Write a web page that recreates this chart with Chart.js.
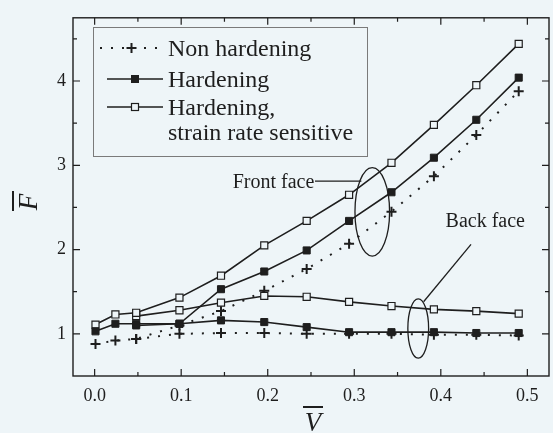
<!DOCTYPE html>
<html>
<head>
<meta charset="utf-8">
<script src="https://cdn.jsdelivr.net/npm/chart.js@4.4.1/dist/chart.umd.min.js"></script>
<style>
  html, body { margin: 0; padding: 0; background: #eef5f8; overflow: hidden; }
  canvas { display: block; }
</style>
</head>
<body>
<canvas id="forceChart" width="556" height="433"></canvas>
<script>
// normalised impact velocity
const velocity = [0.001, 0.024, 0.048, 0.098, 0.146, 0.196, 0.245, 0.294, 0.343, 0.392, 0.441, 0.490];

// normalised force on the front face
const nonHardFront = [0.88, 0.92, 0.94, 1.10, 1.27, 1.51, 1.77, 2.07, 2.45, 2.87, 3.36, 3.88];
const hardFront    = [1.03, 1.12, 1.12, 1.12, 1.53, 1.74, 1.99, 2.34, 2.68, 3.09, 3.54, 4.04];
const rateFront    = [1.11, 1.23, 1.25, 1.43, 1.69, 2.05, 2.34, 2.65, 3.03, 3.48, 3.95, 4.44];

// normalised force on the back face, from the third velocity on
const nonHardBack = [0.94, 1.00, 1.01, 1.01, 1.00, 1.00, 1.00, 0.99, 0.99, 0.98];
const hardBack    = [1.10, 1.12, 1.16, 1.14, 1.08, 1.02, 1.02, 1.02, 1.01, 1.01];
const rateBack    = [1.21, 1.28, 1.37, 1.45, 1.44, 1.38, 1.33, 1.29, 1.27, 1.24];

const xTicks = [0, 0.1, 0.2, 0.3, 0.4, 0.5];
const yTicks = [1, 2, 3, 4];
const xMinor = [0.05, 0.15, 0.25, 0.35, 0.45];
const yMinor = [1.5, 2.5, 3.5, 4.5];

const legendLabels = ['Non hardening', 'Hardening', 'Hardening,', 'strain rate sensitive'];

const ink = '#1e1e1e';
const paper = '#eef5f8';
const serif = '"Liberation Serif", "Times New Roman", serif';

const pts = (vals, from) => vals.map((f, i) => ({ x: velocity[i + from], y: f }));

const dotted = { borderColor: ink, borderWidth: 2, borderDash: [2, 9], pointStyle: 'cross',
  pointRadius: 5, pointBorderWidth: 2, pointBorderColor: ink, order: 3 };
const filled = { borderColor: ink, borderWidth: 1.6, pointStyle: 'rect', pointRadius: 5,
  pointBackgroundColor: ink, pointBorderColor: ink, pointBorderWidth: 1, order: 1 };
const hollow = { borderColor: ink, borderWidth: 1.6, pointStyle: 'rect', pointRadius: 5,
  pointBackgroundColor: paper, pointBorderColor: ink, pointBorderWidth: 1.2, order: 2 };

// callout text, leader and ellipse positions in data units
const notes = {
  front: { text: 'Front face', at: [0.1595, 2.73], lead: [[0.2546, 2.811], [0.3082, 2.811]],
           ellipse: [0.3208, 2.448, 0.0200, 0.525] },
  back:  { text: 'Back face', at: [0.4055, 2.269], lead: [[0.4349, 2.061], [0.3801, 1.381]],
           ellipse: [0.3739, 1.063, 0.0120, 0.352] }
};

function drawSample(ctx, kind, x0, x1, yy) {
  ctx.save();
  ctx.strokeStyle = ink;
  const mid = (x0 + x1) / 2;
  if (kind === 0) {
    ctx.lineWidth = 2;
    ctx.setLineDash([2, 9]);
    ctx.beginPath(); ctx.moveTo(x0, yy); ctx.lineTo(x1, yy); ctx.stroke();
    ctx.setLineDash([]);
    ctx.beginPath();
    ctx.moveTo(mid - 5, yy); ctx.lineTo(mid + 5, yy);
    ctx.moveTo(mid, yy - 5); ctx.lineTo(mid, yy + 5);
    ctx.stroke();
  } else {
    ctx.lineWidth = 1.6;
    ctx.beginPath(); ctx.moveTo(x0, yy); ctx.lineTo(x1, yy); ctx.stroke();
    ctx.fillStyle = kind === 1 ? ink : paper;
    ctx.fillRect(mid - 3.5, yy - 3.5, 7, 7);
    ctx.lineWidth = kind === 1 ? 1 : 1.2;
    ctx.strokeRect(mid - 3.5, yy - 3.5, 7, 7);
  }
  ctx.restore();
}

const frameAndNotes = {
  id: 'frameAndNotes',
  afterDraw(chart) {
    const { ctx, chartArea: a, scales: { x, y } } = chart;
    ctx.save();

    // frame with inward ticks on all four sides
    ctx.strokeStyle = ink;
    ctx.lineWidth = 1.4;
    ctx.strokeRect(a.left, a.top, a.right - a.left, a.bottom - a.top);
    ctx.lineWidth = 1.2;
    ctx.beginPath();
    const xt = (v, len) => {
      const px = x.getPixelForValue(v);
      ctx.moveTo(px, a.bottom); ctx.lineTo(px, a.bottom - len);
      ctx.moveTo(px, a.top); ctx.lineTo(px, a.top + len);
    };
    const yt = (v, len) => {
      const py = y.getPixelForValue(v);
      ctx.moveTo(a.left, py); ctx.lineTo(a.left + len, py);
      ctx.moveTo(a.right, py); ctx.lineTo(a.right - len, py);
    };
    xTicks.forEach(v => xt(v, 7));
    xMinor.forEach(v => xt(v, 4));
    yTicks.forEach(v => yt(v, 7));
    yMinor.forEach(v => yt(v, 4));
    ctx.stroke();

    // axis titles with overbars
    ctx.fillStyle = ink;
    ctx.font = 'italic 27px ' + serif;
    ctx.textAlign = 'center';
    ctx.textBaseline = 'alphabetic';
    const vx = (a.left + a.right) / 2 + 2;
    ctx.fillText('V', vx, 431);
    ctx.lineWidth = 2;
    ctx.beginPath(); ctx.moveTo(vx - 10, 407); ctx.lineTo(vx + 10, 407); ctx.stroke();

    ctx.save();
    ctx.translate(37, 202);
    ctx.rotate(-Math.PI / 2);
    ctx.fillText('F', 0, 0);
    ctx.beginPath(); ctx.moveTo(-9, -24); ctx.lineTo(11, -24); ctx.stroke();
    ctx.restore();

    // legend
    ctx.fillStyle = paper;
    ctx.fillRect(93, 27, 274, 129);
    ctx.strokeStyle = '#7a7a7a';
    ctx.lineWidth = 1;
    ctx.strokeRect(93.5, 27.5, 274, 129);
    ctx.fillStyle = ink;
    ctx.font = '24px ' + serif;
    ctx.textAlign = 'left';
    const rows = [56, 87, 115, 140];
    legendLabels.forEach((t, i) => ctx.fillText(t, 168, rows[i]));
    drawSample(ctx, 0, 100, 163, 48);
    drawSample(ctx, 1, 107, 163, 79);
    drawSample(ctx, 2, 107, 163, 107);

    // front / back face callouts
    ctx.font = '20px ' + serif;
    ctx.strokeStyle = ink;
    ctx.lineWidth = 1.3;
    Object.values(notes).forEach(n => {
      ctx.fillText(n.text, x.getPixelForValue(n.at[0]), y.getPixelForValue(n.at[1]));
      ctx.beginPath();
      ctx.moveTo(x.getPixelForValue(n.lead[0][0]), y.getPixelForValue(n.lead[0][1]));
      ctx.lineTo(x.getPixelForValue(n.lead[1][0]), y.getPixelForValue(n.lead[1][1]));
      ctx.stroke();
      const [cx, cy, rx, ry] = n.ellipse;
      const px = x.getPixelForValue(cx), py = y.getPixelForValue(cy);
      const prx = x.getPixelForValue(cx + rx) - px, pry = py - y.getPixelForValue(cy + ry);
      ctx.beginPath();
      ctx.ellipse(px, py, prx, pry, 0, 0, Math.PI * 2);
      ctx.stroke();
    });

    ctx.restore();
  }
};

new Chart(document.getElementById('forceChart'), {
  type: 'line',
  data: {
    datasets: [
      { label: legendLabels[0], data: pts(nonHardFront, 0), ...dotted },
      { label: legendLabels[1], data: pts(hardFront, 0), ...filled },
      { label: legendLabels[2], data: pts(rateFront, 0), ...hollow },
      { label: 'nonHardBack', data: pts(nonHardBack, 2), ...dotted },
      { label: 'hardBack', data: pts(hardBack, 2), ...filled },
      { label: 'rateBack', data: pts(rateBack, 2), ...hollow }
    ]
  },
  options: {
    responsive: false,
    animation: false,
    layout: { padding: { top: 8, right: 1, left: 0, bottom: 0 } },
    plugins: { legend: { display: false }, tooltip: { enabled: false } },
    elements: { line: { tension: 0, fill: false } },
    scales: {
      x: {
        type: 'linear', min: -0.025, max: 0.525,
        grid: { display: false, drawTicks: false },
        border: { display: false },
        afterBuildTicks: s => { s.ticks = xTicks.map(v => ({ value: v })); },
        afterFit: s => { s.height = 57; },
        ticks: { padding: 9, color: ink, font: { family: serif, size: 18 },
                 maxRotation: 0, callback: v => v.toFixed(1) }
      },
      y: {
        type: 'linear', min: 0.5, max: 4.75,
        grid: { display: false, drawTicks: false },
        border: { display: false },
        afterBuildTicks: s => { s.ticks = yTicks.map(v => ({ value: v })); },
        afterFit: s => { s.width = 73; },
        ticks: { padding: 7, color: ink, font: { family: serif, size: 18 },
                 callback: v => String(v) }
      }
    }
  },
  plugins: [frameAndNotes]
});
</script>
</body>
</html>
